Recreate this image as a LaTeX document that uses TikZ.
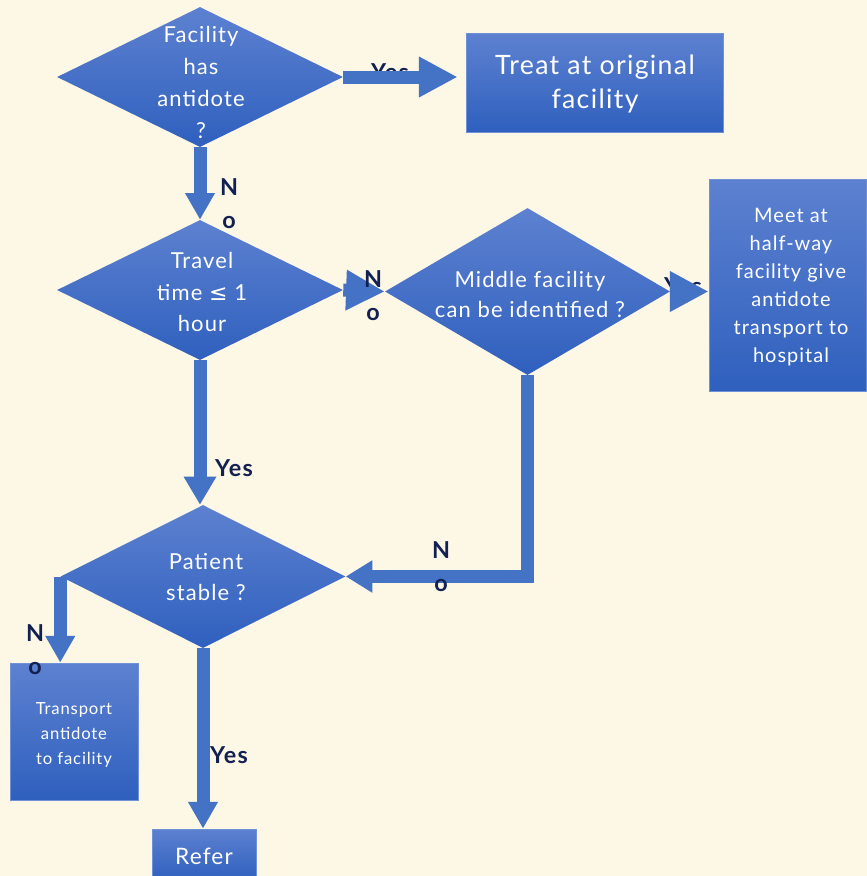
\documentclass[tikz,border=0pt]{standalone}
\usepackage{fontspec}
\setmainfont{Lato}[LetterSpace=5]
\newfontfamily\leqfont{DejaVu Sans}
\usetikzlibrary{shapes.geometric,arrows.meta}
\definecolor{bgc}{RGB}{253,247,229}
\definecolor{topc}{RGB}{93,129,208}
\definecolor{botc}{RGB}{47,96,190}
\definecolor{edgec}{RGB}{110,145,215}
\definecolor{arrc}{RGB}{68,114,196}
\definecolor{lblc}{RGB}{18,32,82}
\tikzset{
  dia/.style={diamond, inner sep=0pt, top color=topc, bottom color=botc, draw=none},
  boxn/.style={rectangle, inner sep=0pt, top color=topc, bottom color=botc, draw=edgec, line width=0.6pt},
  txt/.style={text=white, align=center, inner sep=0pt},
  lbl/.style={text=lblc, align=center, inner sep=0pt, font=\bfseries\fontsize{17.5}{24.75}\selectfont},
  conn/.style={draw=arrc, line width=9.75pt, -{Triangle[width=21pt,length=20pt]}},
  bigconn/.style={draw=arrc, line width=9.75pt, -{Triangle[width=28.5pt,length=29pt]}}
}
\begin{document}
\begin{tikzpicture}[x=0.75pt,y=-0.75pt]
\fill[bgc] (0,0) rectangle (867,876);
\clip (0,0) rectangle (867,876);
% shapes
\node[dia, minimum width=214.5pt, minimum height=105pt] (d1) at (200,77) {};
\node[dia, minimum width=214.5pt, minimum height=105pt] (d2) at (200,290) {};
\node[dia, minimum width=213.75pt, minimum height=125.25pt] (d3) at (527.5,291.5) {};
\node[dia, minimum width=213.75pt, minimum height=107.25pt] (d4) at (203,576.5) {};
\node[boxn, minimum width=192.75pt, minimum height=74.25pt] (b1) at (594.5,82.5) {};
\node[boxn, minimum width=117.75pt, minimum height=159pt] (b2) at (787.5,285) {};
\node[boxn, minimum width=96pt, minimum height=102.75pt] (b3) at (74,731.5) {};
\node[boxn, minimum width=78pt, minimum height=38.25pt] (b4) at (204,854.5) {};
% texts
\node[txt, font=\fontsize{16.5}{24}\selectfont] (t1) at (201,82) {Facility\\has\\antidote\\?};
\node[txt, font=\fontsize{16.5}{23.6}\selectfont] (t2) at (202,292) {Travel\\time {\leqfont ≤} 1\\hour};
\node[txt, font=\fontsize{16.5}{22.5}\selectfont] (t3) at (530,294) {Middle facility\\can be identified ?};
\node[txt, font=\fontsize{16.5}{23.25}\selectfont] (t4) at (206,577) {Patient\\stable ?};
\node[txt, font=\fontsize{20}{25.5}\selectfont] (t5) at (595,84) {Treat at original\\facility};
\node[txt, font=\fontsize{15}{21}\selectfont] (t6) at (791,287) {Meet at\\half-way\\facility give\\antidote\\transport to\\hospital};
\node[txt, font=\fontsize{12.5}{18.75}\selectfont] (t7) at (74,735) {Transport\\antidote\\to facility};
\node[txt, font=\fontsize{17}{20}\selectfont] (t8) at (204,856) {Refer};
% labels drawn beneath connectors
\node[lbl] (l1) at (390,72) {Yes};
\node[lbl] (l2) at (683,286) {Yes};
% connectors
\draw[bigconn, shorten >=6pt] (d1.east) -- (d1.east -| b1.west);
\draw[conn] (d1.south) -- (d2.north);
\draw[bigconn] (d2.east) -- (d3.west);
\draw[bigconn] (d3.east) -- (d3.east -| b2.west);
\draw[conn, -{Triangle[width=23pt,length=21pt]}] (d2.south) -- (d2.south |- d4.north);
\draw[conn, -{Triangle[width=23pt,length=20pt]}] (d3.south) |- (d4.east);
\draw[conn] (d4.west) -- (d4.west |- b3.north);
\draw[conn] (d4.south) -- (d4.south |- b4.north);
% labels on top
\node[lbl] (l3) at (229,204) {N\\o};
\node[lbl] (l4) at (373,296) {N\\o};
\node[lbl] (l5) at (441,567) {N\\o};
\node[lbl] (l6) at (35,650) {N\\o};
\node[lbl] (l7) at (234,468) {Yes};
\node[lbl] (l8) at (229,755) {Yes};
\end{tikzpicture}
\end{document}
